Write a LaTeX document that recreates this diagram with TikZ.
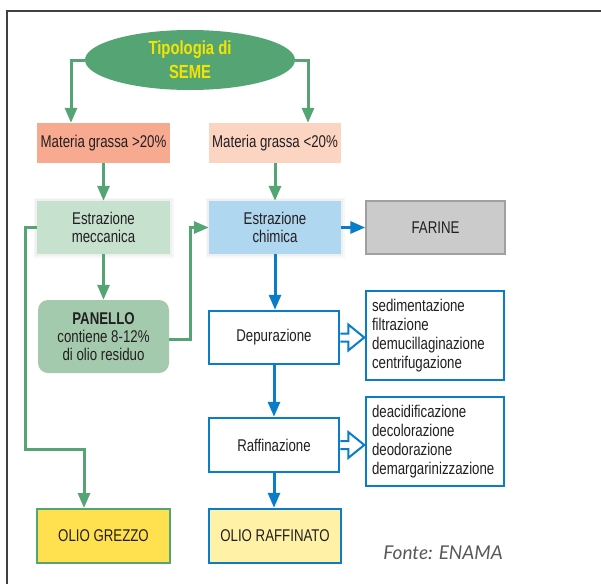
\documentclass[tikz,border=0pt]{standalone}
\usepackage{fontspec}
\setmainfont{Liberation Sans}[FakeStretch=0.78]
\newfontfamily\fontefont{Lato}
\usetikzlibrary{arrows.meta,shapes.geometric,calc}
\definecolor{ellgreen}{HTML}{55A474}
\definecolor{salmon}{HTML}{F8AA90}
\definecolor{peach}{HTML}{FCD4C2}
\definecolor{lgreen}{HTML}{C6E1CE}
\definecolor{lblue}{HTML}{AFD7EF}
\definecolor{farg}{HTML}{CBCBCB}
\definecolor{farb}{HTML}{A0A0A0}
\definecolor{pang}{HTML}{A4CAAE}
\definecolor{blu}{HTML}{0A7DC8}
\definecolor{yel1}{HTML}{FFE14F}
\definecolor{yel2}{HTML}{FFF2A6}
\definecolor{seyel}{HTML}{F6E400}
\definecolor{txt}{HTML}{231F20}
\definecolor{frame}{HTML}{404040}
\begin{document}
\begin{tikzpicture}[x=1pt,y=-1pt,
  every node/.style={text=txt,font=\fontsize{17}{18}\selectfont,inner sep=0pt,align=center},
  box/.style={rectangle,minimum width=#1},
  halo/.style={preaction={draw=black!3,line width=7pt},preaction={draw=black!6,line width=3.5pt}},
  garrow/.style={draw=ellgreen,line width=3pt,-{Triangle[length=15pt,width=12pt]}},
  barrow/.style={draw=blu,line width=3pt,-{Triangle[length=15pt,width=12pt]}},
  bbox/.style={draw=blu,line width=2.5pt,fill=white},
  hollow/.style={draw=blu,line width=2pt,fill=white,line join=miter},
  listtext/.style={align=left,font=\fontsize{17}{19}\selectfont}
]
\useasboundingbox (0,0) rectangle (601,584);
\fill[white] (0,0) rectangle (601,584);
\draw[frame,line width=1.5pt] (7,584) -- (7,11) -- (601,11);

\node[ellipse,fill=ellgreen,minimum width=210,minimum height=60,text=seyel,
  font=\fontsize{19}{24}\selectfont\bfseries] (seme) at (190,60) {Tipologia di\\SEME};

\node[box=133,minimum height=40,fill=salmon] (mg1) at (103.5,143) {Materia grassa >20\%};
\node[box=132,minimum height=40,fill=peach] (mg2) at (275,143) {Materia grassa <20\%};

\node[box=133,minimum height=53,fill=lgreen,halo] (em) at (103.5,227.5) {Estrazione\\meccanica};
\node[box=132,minimum height=53,fill=lblue,halo] (ec) at (275,227.5) {Estrazione\\chimica};
\node[box=139,minimum height=53,fill=farg,draw=farb,line width=1.5pt] (far) at (435.5,227.5) {FARINE};

\node[box=131,minimum height=73,fill=pang,rounded corners=10pt] (pan) at (103.5,336.5)
  {\textbf{PANELLO}\\contiene 8-12\%\\di olio residuo};

\node[box=130,minimum height=53,bbox] (dep) at (274,337.5) {Depurazione};
\node[box=138,minimum height=89,bbox,listtext] (l1) at (435,335.5)
  {\parbox{126pt}{\raggedright sedimentazione\\filtrazione\\demucillaginazione\\centrifugazione}};
\node[box=130,minimum height=54,bbox] (raf) at (274,445) {Raffinazione};
\node[box=138,minimum height=89,bbox,listtext] (l2) at (435,441.5)
  {\parbox{126pt}{\raggedright deacidificazione\\decolorazione\\deodorazione\\demargarinizzazione}};

\node[box=133,minimum height=54,fill=yel1,draw=ellgreen,line width=2pt] (og) at (103.5,536) {OLIO GREZZO};
\node[box=132,minimum height=54,fill=yel2,draw=blu,line width=2.5pt] (or) at (275,536) {OLIO RAFFINATO};

\node[anchor=base east,text=black!65,font=\fontefont\itshape\fontsize{19}{20}\selectfont] (fonte) at (503,559) {Fonte: ENAMA};

% green connectors
\draw[garrow] (seme.west) -| ([xshift=-32.5pt]mg1.north);
\draw[garrow] (seme.east) -| ([xshift=33pt]mg2.north);
\draw[garrow] (mg1.south) -- (em.north);
\draw[garrow] (mg2.south) -- (ec.north);
\draw[garrow] (em.south) -- (pan.north);
\coordinate (p1) at (190,339);
\draw[garrow] ([yshift=-2.5pt]pan.east) -- (p1) |- (ec.west);
\coordinate (g1) at (25,449);
\draw[garrow] (em.west) -| (g1) -| ([xshift=-19.5pt]og.north);

% blue connectors
\draw[barrow] (ec.east) -- (far.west);
\draw[barrow] (ec.south) -- (ec.south |- dep.north);
\draw[barrow] (dep.south) -- (dep.south |- raf.north);
\draw[barrow] (raf.south) -- (raf.south |- or.north);

% hollow arrows
\draw[hollow] (dep.east) ++(0,-4) -- ++(8,0) -- ++(0,-9) -- ++(16,13) -- ++(-16,13) -- ++(0,-9) -- ++(-8,0);
\draw[hollow] (raf.east) ++(0,-4) -- ++(8,0) -- ++(0,-9) -- ++(16,13) -- ++(-16,13) -- ++(0,-9) -- ++(-8,0);
\end{tikzpicture}
\end{document}
